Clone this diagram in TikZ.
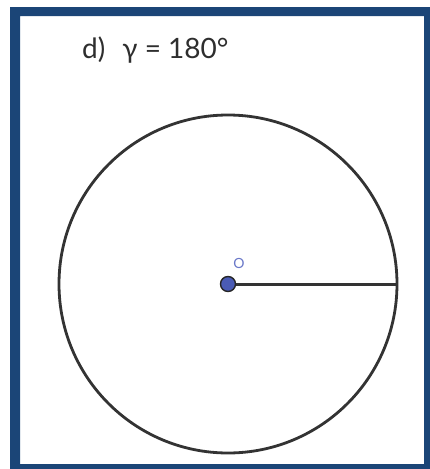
\documentclass[tikz,border=0pt]{standalone}
\usepackage{fontspec}
\setmainfont{Lato}
\definecolor{khung}{HTML}{1B4577}
\definecolor{diemO}{HTML}{4A5BB5}
\definecolor{nhanO}{HTML}{6A78C8}
\definecolor{net}{HTML}{333333}
\begin{document}
\begin{tikzpicture}[x=1pt,y=-1pt]
				
				%----------------------
				% Thông số
				%----------------------
				\def\xo{228}   % tâm O (x)
				\def\yo{284}   % tâm O (y)
				\def\R{169}    % bán kính đường tròn
				
				\useasboundingbox (0,0) rectangle (430,469);
				
				% Khung viền
				\fill[khung,even odd rule]
				(10,7) rectangle (430,469)
				(20,16) rectangle (424,464);
				
				% Tiêu đề
				\node[anchor=base west,inner sep=0pt,text=net!90!black] (tieude) at (82,58)
				{\fontsize{28}{32}\selectfont d)\hspace{17pt}γ = 180°};
				
				% Đường tròn
				\coordinate (O) at (\xo,\yo);
				\coordinate (A) at (\xo+\R,\yo);
				\draw[net,line width=2.8pt] (O) circle (\R);
				
				% Bán kính OA
				\draw[net,line width=3pt] (O)--(A);
				
				% Điểm O
				\filldraw[fill=diemO,draw=black!85,line width=1.4pt] (O) circle (7.5);
				\node[text=nhanO,inner sep=0pt,anchor=south] (nhan) at (\xo+11,\yo-15)
				{\fontsize{14}{16}\selectfont O};
				
			\end{tikzpicture}
\end{document}
